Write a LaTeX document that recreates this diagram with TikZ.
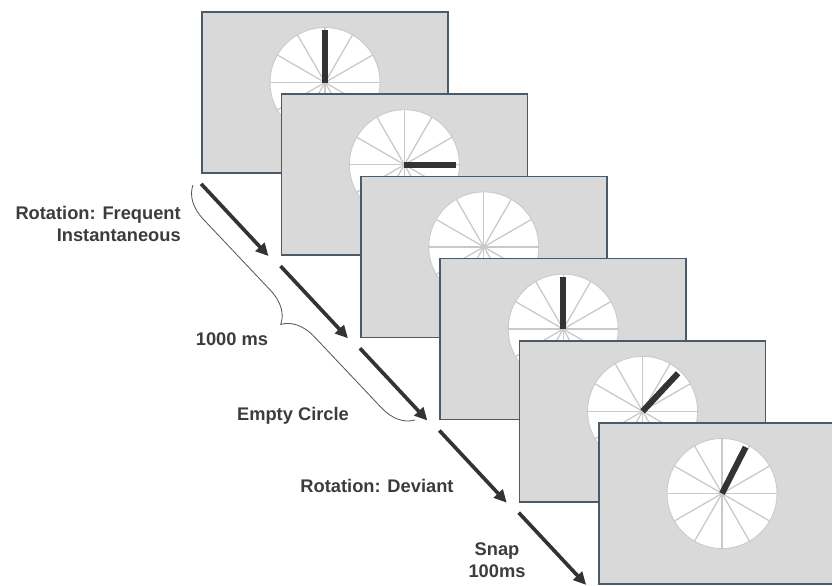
\documentclass[tikz,border=0pt]{standalone}
\usepackage{fontspec}
\setmainfont{Liberation Sans}
\usepackage{tikz}
\usetikzlibrary{positioning,calc,arrows.meta,decorations.pathreplacing}
\definecolor{screengray}{HTML}{D9D9D9}
\definecolor{screenedge}{HTML}{4B5968}
\definecolor{spokegray}{HTML}{C9C9C9}
\definecolor{inkgray}{HTML}{333333}
\definecolor{labelgray}{HTML}{3C3C3C}
\tikzset{screen/.style={draw=screenedge, fill=screengray, line width=1.2pt, minimum width=6.15cm, minimum height=4.025cm, inner sep=0pt}}
\tikzset{arr/.style={draw=inkgray, line width=2.6pt, -{Triangle[length=9pt,width=8.5pt]}}}
\tikzset{hand/.style={draw=inkgray, line width=4.3pt}}
\tikzset{brc/.style={draw=black!65, line width=0.6pt, decorate, decoration={brace, mirror, amplitude=0.8cm}}}
\tikzset{lbl/.style={text=labelgray, font=\fontsize{13}{15.6}\selectfont\bfseries, inner sep=0pt}}
\tikzset{dial/.pic={
	\fill[white] (0,0) circle[radius=1.375cm];
	\foreach \a in {0,30,...,330} \draw[spokegray, line width=0.9pt] (0,0) -- (\a:1.375cm);
	\draw[spokegray, line width=0.6pt] (0,0) circle[radius=1.375cm];
}}

\begin{document}
\begin{tikzpicture}[x=0.025cm, y=0.025cm]
\useasboundingbox (0,0) rectangle (832,-585);

	\node[screen] (f1) at (325,-92.5) {};
	\pic at ($(f1)+(0,10)$) {dial};
	\draw[hand] ($(f1)+(0,10)$) -- ++(90:1.3cm);

	\node[screen] (f2) at (404.4,-174.7) {};
	\pic at ($(f2)+(0,10)$) {dial};
	\draw[hand] ($(f2)+(0,10)$) -- ++(0:1.3cm);

	\node[screen] (f3) at (483.8,-256.9) {};
	\pic at ($(f3)+(0,10)$) {dial};

	\node[screen] (f4) at (563.2,-339.1) {};
	\pic at ($(f4)+(0,10)$) {dial};
	\draw[hand] ($(f4)+(0,10)$) -- ++(90:1.3cm);

	\node[screen] (f5) at (642.6,-421.3) {};
	\pic at ($(f5)+(0,10)$) {dial};
	\draw[hand] ($(f5)+(0,10)$) -- ++(47:1.3cm);

	\node[screen] (f6) at (722,-503.5) {};
	\pic at ($(f6)+(0,10)$) {dial};
	\draw[hand] ($(f6)+(0,10)$) -- ++(63:1.3cm);

\foreach \i/\j in {1/2,2/3,3/4,4/5,5/6}
	\draw[arr] ($(f\i.south west)+(0,-10)$) -- ($(f\j.south west)+(-12,0)$);

	\coordinate (bs) at (193,-185);
	\coordinate (be) at (415,-420);
	\draw[brc] (bs) -- (be);

	\node[lbl, align=right, anchor=east] (rotfreq) at (181,-224) {Rotation: Frequent\\Instantaneous};
	\node[lbl, anchor=base] (onesec) at (232,-345) {1000 ms};
	\node[lbl, anchor=base] (empty) at (293,-420) {Empty Circle};
	\node[lbl, anchor=base] (rotdev) at (377,-492) {Rotation: Deviant};
	\node[lbl, align=center] (snap) at (497,-560) {Snap\\100ms};
\end{tikzpicture}
\end{document}
